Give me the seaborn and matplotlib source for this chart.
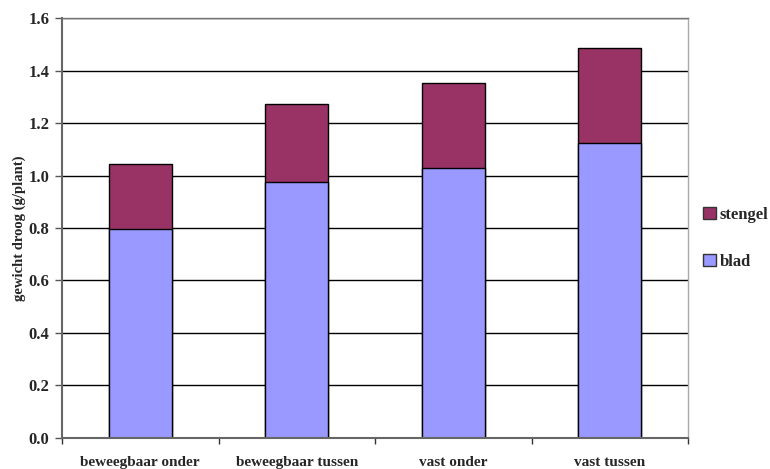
import matplotlib
matplotlib.use('Agg')
import matplotlib.pyplot as plt
import seaborn as sns
import pandas as pd
from matplotlib.patches import Patch

# data
categories = ['beweegbaar onder', 'beweegbaar tussen', 'vast onder', 'vast tussen']
blad = [0.795, 0.974, 1.030, 1.126]
stengel = [0.248, 0.298, 0.322, 0.362]

sns.set_style('white')
plt.rcParams['font.family'] = ['Liberation Serif', 'DejaVu Serif']
plt.rcParams['font.weight'] = 'bold'

df = pd.DataFrame({'categorie': categories, 'blad': blad, 'stengel': stengel})
df['totaal'] = df['blad'] + df['stengel']

c_blad = '#9999FF'
c_stengel = '#993366'

fig = plt.figure(figsize=(7.7, 4.69), dpi=100)
ax = fig.add_axes([62 / 770, 1 - 437.7 / 469, (688 - 62) / 770, (437.7 - 18.3) / 469])

# gridlines first
ax.set_axisbelow(True)
ax.yaxis.grid(True, color='black', lw=1)

sns.barplot(data=df, x='categorie', y='totaal', color=c_stengel, width=0.4,
            edgecolor='black', linewidth=1, saturation=1, ax=ax)
sns.barplot(data=df, x='categorie', y='blad', color=c_blad, width=0.4,
            edgecolor='black', linewidth=1, saturation=1, ax=ax)

ax.set_ylim(0, 1.6)
ax.set_xlim(-0.5, 3.5)
ax.set_yticks([0.0, 0.2, 0.4, 0.6, 0.8, 1.0, 1.2, 1.4, 1.6])
ax.set_yticklabels([f'{v:.1f}' for v in ax.get_yticks()], fontsize=12, fontweight='bold')
ax.tick_params(axis='y', direction='out', length=5, width=1, color='#555555', pad=4, left=True)
ax.set_xticks(range(4))
ax.set_xticklabels(categories, fontsize=11, fontweight='bold')
ax.tick_params(axis='x', which='major', length=0, pad=13)
ax.set_xticks([-0.5, 0.5, 1.5, 2.5, 3.5], minor=True)
ax.tick_params(axis='x', which='minor', direction='out', length=4, width=1,
               color='#333333', bottom=True)

ax.set_xlabel('')
ax.set_ylabel('gewicht droog (g/plant)', fontsize=10.5, fontweight='bold', labelpad=2)

for s in ['left', 'bottom']:
    ax.spines[s].set_color('#666666')
    ax.spines[s].set_linewidth(1.5)
ax.spines['right'].set_color('#aaaaaa')
ax.spines['right'].set_linewidth(1)
ax.spines['top'].set_color('#777777')
ax.spines['top'].set_linewidth(1)

handles = [Patch(facecolor=c_stengel, edgecolor='#333333', label='stengel'),
           Patch(facecolor=c_blad, edgecolor='#333333', label='blad')]
fig.legend(handles=handles, loc='upper left', bbox_to_anchor=(703 / 770, 1 - 207 / 469),
           frameon=False, borderaxespad=0, borderpad=0,
           handlelength=0.75, handleheight=0.75,
           handletextpad=0.25, labelspacing=1.85, prop={'weight': 'bold', 'size': 12})

fig.savefig('out.png', dpi=100)
